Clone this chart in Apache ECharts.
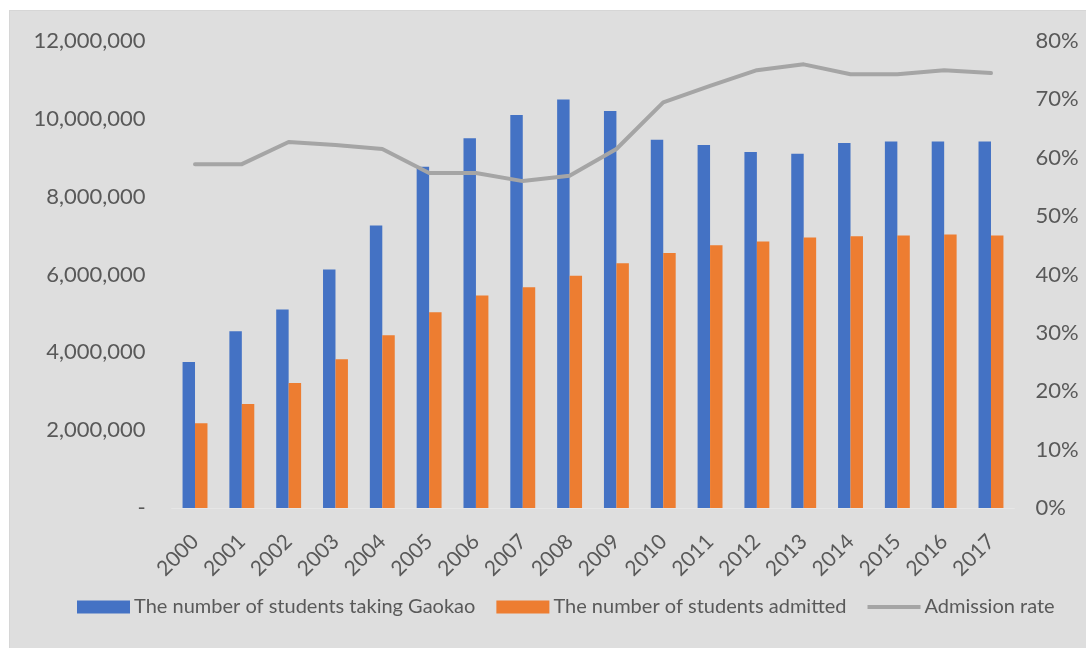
<!DOCTYPE html>
<html>
<head>
<meta charset="utf-8">
<script src="https://cdn.jsdelivr.net/npm/echarts@6/dist/echarts.min.js"></script>
<style>
  html, body { margin: 0; padding: 0; background: #ffffff; width: 1086px; height: 648px; overflow: hidden; }
  #chart { position: absolute; left: 9px; top: 10px; width: 1077px; height: 638px; background: #dedede; box-sizing: border-box; border-left: 1px solid #d6d6d6; border-top: 1px solid #d6d6d6; }
</style>
</head>
<body>
<div id="chart"></div>
<script>
const years = ['2000','2001','2002','2003','2004','2005','2006','2007','2008','2009','2010','2011','2012','2013','2014','2015','2016','2017'];
const takingGaokao = [3750000, 4540000, 5100000, 6130000, 7260000, 8770000, 9500000, 10100000, 10500000, 10200000, 9460000, 9330000, 9150000, 9100000, 9380000, 9420000, 9420000, 9420000];
const admitted = [2180000, 2670000, 3210000, 3820000, 4440000, 5030000, 5460000, 5670000, 5970000, 6290000, 6550000, 6750000, 6850000, 6950000, 6980000, 7000000, 7030000, 7000000];
const admissionRate = [58.9, 58.9, 62.7, 62.2, 61.5, 57.4, 57.4, 56.0, 56.9, 61.5, 69.5, 72.3, 75.0, 76.0, 74.3, 74.3, 75.0, 74.5];
const leftTicks = { min: 0, max: 12000000, interval: 2000000 };
const rightTicks = { min: 0, max: 80, interval: 10 };
const seriesNames = ['The number of students taking Gaokao', 'The number of students admitted', 'Admission rate'];

const FONT = 'Lato';
const TXT = '#595959';
const chart = echarts.init(document.getElementById('chart'), null, { renderer: 'canvas' });
chart.setOption({
  backgroundColor: 'transparent',
  animation: false,
  textStyle: { fontFamily: FONT },
  grid: { left: 161.6, right: 71.6, top: 30, bottom: 140, containLabel: false },
  legend: {
    left: 67, top: 586, width: 1050,
    padding: 0,
    itemGap: 21,
    itemWidth: 53, itemHeight: 13,
    textStyle: { fontFamily: FONT, fontSize: 20, color: TXT, padding: [0, 0, 0, -1] },
    data: [
      { name: seriesNames[0], icon: 'rect' },
      { name: seriesNames[1], icon: 'rect' },
      { name: seriesNames[2], icon: 'path://M0,0 L53,0 L53,4 L0,4 Z', itemStyle: { color: '#a5a5a5' } }
    ]
  },
  xAxis: {
    type: 'category',
    data: years,
    axisTick: { show: false },
    axisLine: { show: true, lineStyle: { color: '#e6e6e6', width: 1 } },
    axisLabel: { rotate: 45, margin: 30, fontFamily: FONT, fontSize: 21, color: TXT, interval: 0 }
  },
  yAxis: [
    {
      type: 'value', position: 'left',
      min: leftTicks.min, max: leftTicks.max, interval: leftTicks.interval,
      splitLine: { show: false },
      axisLine: { show: false }, axisTick: { show: false },
      axisLabel: {
        margin: 26, fontFamily: FONT, fontSize: 22, color: TXT,
        formatter: v => v === 0 ? '-' : v.toLocaleString('en-US')
      }
    },
    {
      type: 'value', position: 'right',
      min: rightTicks.min, max: rightTicks.max, interval: rightTicks.interval,
      splitLine: { show: false },
      axisLine: { show: false }, axisTick: { show: false },
      axisLabel: { margin: 21, fontFamily: FONT, fontSize: 22, color: TXT, formatter: v => v + '%' }
    }
  ],
  series: [
    {
      name: seriesNames[0], type: 'bar', yAxisIndex: 0,
      data: takingGaokao, barWidth: '26.6%', barGap: '0%',
      itemStyle: { color: '#4472c4' }
    },
    {
      name: seriesNames[1], type: 'bar', yAxisIndex: 0,
      data: admitted, barWidth: '26.6%', barGap: '0%',
      itemStyle: { color: '#ed7d31' }
    },
    {
      name: seriesNames[2], type: 'line', yAxisIndex: 1,
      data: admissionRate, showSymbol: false, symbol: 'none',
      lineStyle: { color: '#a5a5a5', width: 4, join: 'round', cap: 'round' },
      itemStyle: { color: '#a5a5a5' }
    }
  ]
});
</script>
</body>
</html>
